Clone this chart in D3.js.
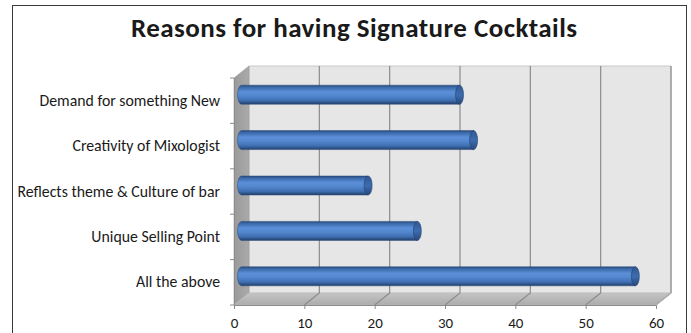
<!DOCTYPE html>
<html>
<head>
<meta charset="utf-8">
<script src="https://cdn.jsdelivr.net/npm/d3@7"></script>
<style>
  html, body { margin: 0; padding: 0; background: #fff; }
  svg { display: block; }
  text { font-family: Carlito, Lato, "Open Sans", sans-serif; fill: #1a1a1a; }
</style>
</head>
<body>
<svg id="chart" width="691" height="333"></svg>
<script>
// Survey answers: reasons bars give for offering signature cocktails
const categories = [
  "Demand for something New",
  "Creativity of Mixologist",
  "Reflects theme & Culture of bar",
  "Unique Selling Point",
  "All the above"
];
const values = [31, 33, 18, 25, 56];
const xTicks = [0, 10, 20, 30, 40, 50, 60];
const chartTitle = "Reasons for having Signature Cocktails";

const FONT = "Carlito, Lato, 'Open Sans', sans-serif";
const svg = d3.select("#chart");

// chart frame
svg.append("rect")
  .attr("x", 12.5).attr("y", 5.5)
  .attr("width", 674).attr("height", 340)
  .attr("fill", "#fff").attr("stroke", "#3a3a3a").attr("stroke-width", 1);

svg.append("text")
  .attr("x", 354).attr("y", 37)
  .attr("text-anchor", "middle")
  .attr("font-size", 27).attr("font-weight", "bold")
  .attr("textLength", 446).attr("lengthAdjust", "spacing")
  .text(chartTitle);

// front plane scales; the 3-D depth is an oblique offset
const x = d3.scaleLinear().domain([0, 60]).range([234, 656]);
const y = d3.scaleBand().domain(categories).range([78, 305]).paddingInner(0).paddingOuter(0);
const DX = 15, DY = -12;
const x0 = x(0), x1 = x(60), yTop = y.range()[0], yBot = y.range()[1];

const defs = svg.append("defs");
const floorGrad = defs.append("linearGradient").attr("id", "floorGrad")
  .attr("x1", 0).attr("y1", 0).attr("x2", 0).attr("y2", 1);
floorGrad.append("stop").attr("offset", "0%").attr("stop-color", "#c4c4c4");
floorGrad.append("stop").attr("offset", "100%").attr("stop-color", "#acacac");

const wallGrad = defs.append("linearGradient").attr("id", "wallGrad")
  .attr("x1", 0).attr("y1", 0).attr("x2", 1).attr("y2", 0);
wallGrad.append("stop").attr("offset", "0%").attr("stop-color", "#9a9a9a");
wallGrad.append("stop").attr("offset", "100%").attr("stop-color", "#aaaaaa");

const barGrad = defs.append("linearGradient").attr("id", "barGrad")
  .attr("x1", 0).attr("y1", 0).attr("x2", 0).attr("y2", 1);
[["0%", "#27497a"], ["10%", "#3a68a8"], ["35%", "#5b8fd8"], ["55%", "#5388cf"],
 ["80%", "#3f6fb2"], ["100%", "#223f6b"]].forEach(([o, c]) =>
  barGrad.append("stop").attr("offset", o).attr("stop-color", c));

const capGrad = defs.append("linearGradient").attr("id", "capGrad")
  .attr("x1", 0).attr("y1", 0).attr("x2", 0).attr("y2", 1);
[["0%", "#2f5891"], ["50%", "#3d6cae"], ["100%", "#29497c"]].forEach(([o, c]) =>
  capGrad.append("stop").attr("offset", o).attr("stop-color", c));

const poly = pts => "M" + pts.map(p => p.join(",")).join("L") + "Z";

// back wall
svg.append("path")
  .attr("d", poly([[x0 + DX, yTop + DY], [x1 + DX, yTop + DY], [x1 + DX, yBot + DY], [x0 + DX, yBot + DY]]))
  .attr("fill", "#e6e6e6").attr("stroke", "#c8c8c8").attr("stroke-width", 1);

// side wall
svg.append("path")
  .attr("d", poly([[x0, yTop], [x0 + DX, yTop + DY], [x0 + DX, yBot + DY], [x0, yBot]]))
  .attr("fill", "url(#wallGrad)").attr("stroke", "#9a9a9a").attr("stroke-width", 0.6);

// floor
svg.append("path")
  .attr("d", poly([[x0, yBot], [x0 + DX, yBot + DY], [x1 + DX, yBot + DY], [x1, yBot]]))
  .attr("fill", "url(#floorGrad)").attr("stroke", "#bdbdbd").attr("stroke-width", 0.6);

// gridlines on back wall and floor
const grid = svg.append("g").attr("stroke", "#8c8c8c").attr("stroke-width", 1.2).attr("fill", "none");
xTicks.filter(t => t > 0).forEach(t => {
  const gx = x(t);
  grid.append("path").attr("d", `M${gx + DX},${yTop + DY}L${gx + DX},${yBot + DY}L${gx},${yBot}`);
});

// category axis: tick marks at band boundaries, labels at band centres
const yAxisG = svg.append("g").attr("transform", `translate(${x0},0)`)
  .call(d3.axisLeft(y).tickSize(0).tickPadding(14));
yAxisG.attr("font-size", null).attr("font-family", null);
yAxisG.select(".domain").attr("stroke", "#8c8c8c");
yAxisG.selectAll("text").attr("font-size", 15.8).attr("fill", "#1a1a1a")
  .style("font-family", FONT);
const bounds = categories.map(c => y(c)).concat([yBot]);
svg.append("g").selectAll("line").data(bounds).join("line")
  .attr("x1", x0 - 4).attr("x2", x0).attr("y1", d => d).attr("y2", d => d)
  .attr("stroke", "#8c8c8c");

// value axis along the front edge of the floor
const xAxisG = svg.append("g").attr("transform", `translate(0,${yBot})`)
  .call(d3.axisBottom(x).tickValues(xTicks).tickSize(4).tickPadding(8).tickSizeOuter(0));
xAxisG.attr("font-size", null).attr("font-family", null);
xAxisG.select(".domain").attr("stroke", "#8c8c8c");
xAxisG.selectAll("line").attr("stroke", "#8c8c8c");
xAxisG.selectAll("text").attr("font-size", 15).attr("fill", "#1a1a1a")
  .style("font-family", FONT);
// right edge of the floor
svg.append("path").attr("d", `M${x1},${yBot}L${x1 + DX},${yBot + DY}`)
  .attr("stroke", "#c0c0c0").attr("fill", "none");

// cylinders at mid depth
const R = 9.5, RX = 4;
const bars = svg.append("g").selectAll("g").data(categories.map((c, i) => ({ c, v: values[i] }))).join("g")
  .attr("transform", d => `translate(${DX / 2},${y(d.c) + y.bandwidth() / 2 + DY / 2})`);
bars.append("path")
  .attr("d", d => {
    const a = x(0), b = x(d.v);
    return `M${b},${-R}L${a},${-R}A${RX},${R} 0 0 0 ${a},${R}L${b},${R}Z`;
  })
  .attr("fill", "url(#barGrad)").attr("stroke", "#2a4a78").attr("stroke-width", 0.5);
bars.append("ellipse")
  .attr("cx", d => x(d.v)).attr("cy", 0).attr("rx", RX).attr("ry", R)
  .attr("fill", "url(#capGrad)").attr("stroke", "#244272").attr("stroke-width", 0.6);
</script>
</body>
</html>
